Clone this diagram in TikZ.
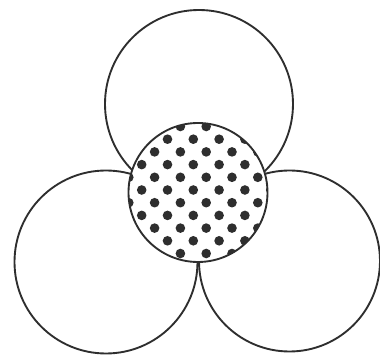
\documentclass[tikz,border=0pt]{standalone}
\usetikzlibrary{calc}
\definecolor{cink}{HTML}{2E2E2E}
\tikzset{
  every picture/.style={line width=1.6pt},
  lobe/.style={draw=cink, fill=white},
  core/.style={draw=cink, fill=white},
  dot/.style={fill=cink},
}

\begin{document}
\begin{tikzpicture}[x=0.03cm, y=0.03cm]
  \useasboundingbox (0,0) rectangle (380,355);
  % three outer lobes
  \foreach \cx/\cy/\r in {199/251/94, 106/93/91.5, 289.5/94/90.5}
    \draw[lobe] (\cx,\cy) circle (\r);
  % dotted core on top
  \fill[white] (198,162.5) circle (69.5);
  \begin{scope}
    \clip (198,162.5) circle (69.5);
    \foreach \i in {-6,...,6} {
      \foreach \j in {-6,...,6} {
        \pgfmathtruncatemacro{\dotodd}{mod(abs(\i+\j),2)}
        \ifnum\dotodd=0
          \fill[dot] ({193.3+12.9*\i},{165+12.7*\j}) circle (4.8);
        \fi
      }
    }
  \end{scope}
  \draw[draw=cink] (198,162.5) circle (69.5);
\end{tikzpicture}
\end{document}
